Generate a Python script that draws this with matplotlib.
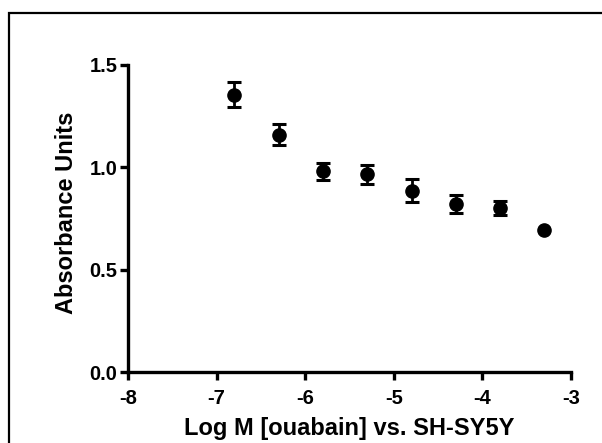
import matplotlib
matplotlib.use("Agg")
import matplotlib.pyplot as plt
from matplotlib.patches import Rectangle
import numpy as np

log_conc = [-6.8, -6.3, -5.8, -5.3, -4.8, -4.3, -3.8, -3.3]
absorbance = [1.355, 1.160, 0.980, 0.967, 0.886, 0.822, 0.802, 0.693]
sem = [0.060, 0.051, 0.043, 0.046, 0.055, 0.044, 0.033, 0.0]
x_ticks = [-8, -7, -6, -5, -4, -3]
y_ticks = [0.0, 0.5, 1.0, 1.5]
y_tick_labels = ["0.0", "0.5", "1.0", "1.5"]

plt.rcParams['font.family'] = ['Liberation Sans', 'DejaVu Sans']
plt.rcParams['font.weight'] = 'bold'

fig = plt.figure(figsize=(6.02, 4.43), dpi=100)
ax = fig.add_axes([128/602, 1-372/443, (571-128)/602, (372-65)/443])

xs = np.array(log_conc)
ys = np.array(absorbance)
es = np.array(sem)
m = es > 0
ax.errorbar(xs[m], ys[m], yerr=es[m], fmt='none', ecolor='black',
            elinewidth=2.0, capsize=5.3, capthick=2.2, clip_on=False)
ax.plot(xs, ys, 'o', color='black', markersize=9.5, clip_on=False)

ax.set_xlim(-8, -3)
ax.set_ylim(0, 1.5)
ax.set_xticks(x_ticks)
ax.set_xticklabels([str(t) for t in x_ticks])
ax.set_yticks(y_ticks)
ax.set_yticklabels(y_tick_labels)
for s in ['top', 'right']:
    ax.spines[s].set_visible(False)
for s in ['left', 'bottom']:
    ax.spines[s].set_linewidth(2.4)
ax.tick_params(axis='both', width=2.4, length=6, labelsize=14.5)
ax.tick_params(axis='x', pad=6)
ax.tick_params(axis='y', pad=1.5)
for lbl in ax.get_xticklabels() + ax.get_yticklabels():
    lbl.set_fontweight('bold')

ax.set_xlabel("Log M [ouabain] vs. SH-SY5Y", fontsize=17, fontweight='bold', labelpad=7)
ax.set_ylabel("Absorbance Units", fontsize=17, fontweight='bold')
ax.yaxis.set_label_coords(-0.113, 0.52)

fig.patches.append(Rectangle((9/602, -0.1), 1.2, 1 - 12.5/443 + 0.1,
                             transform=fig.transFigure, fill=False,
                             edgecolor='black', linewidth=1.6))

fig.savefig("out.png", dpi=100)
